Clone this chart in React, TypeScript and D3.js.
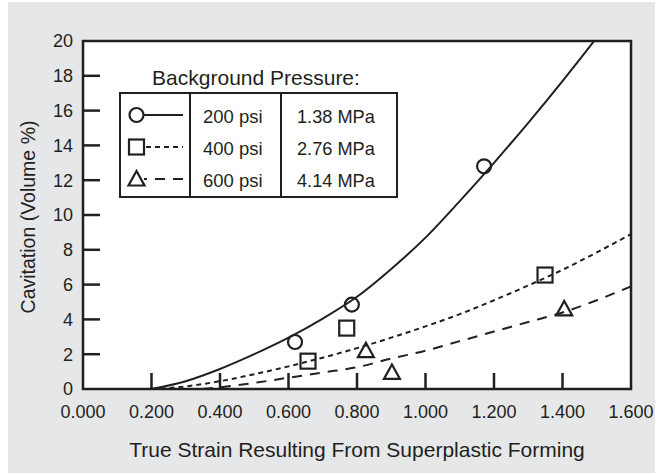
import React from 'react';
import * as d3 from 'd3';

// fitted curves (strain, cavitation %)
const curve200 = [
  [0.2, 0], [0.3, 0.45], [0.4, 1.15], [0.5, 2.0], [0.6, 2.95], [0.7, 4.05], [0.8, 5.3],
  [0.9, 6.9], [1.0, 8.7], [1.1, 10.8], [1.2, 13.0], [1.3, 15.3], [1.4, 17.7], [1.5, 20.2], [1.55, 21.5],
];
const curve400 = [
  [0.2, 0], [0.3, 0.15], [0.4, 0.45], [0.5, 0.85], [0.6, 1.3], [0.7, 1.8], [0.8, 2.35],
  [0.9, 2.95], [1.0, 3.6], [1.1, 4.3], [1.2, 5.1], [1.3, 5.95], [1.4, 6.85], [1.5, 7.85], [1.6, 8.9],
];
const curve600 = [
  [0.35, 0], [0.4, 0.1], [0.5, 0.35], [0.6, 0.65], [0.7, 0.95], [0.8, 1.25], [0.9, 1.75],
  [1.0, 2.2], [1.1, 2.75], [1.2, 3.3], [1.3, 3.85], [1.4, 4.4], [1.5, 5.1], [1.6, 5.9],
];

// measured points
const points200 = [[0.619, 2.7], [0.785, 4.85], [1.171, 12.8]];
const points400 = [[0.657, 1.6], [0.77, 3.5], [1.349, 6.55]];
const points600 = [[0.826, 2.2], [0.902, 0.95], [1.405, 4.6]];

const xTicks = [0, 0.2, 0.4, 0.6, 0.8, 1.0, 1.2, 1.4, 1.6];
const yTicks = [0, 2, 4, 6, 8, 10, 12, 14, 16, 18, 20];

const legendTitle = 'Background Pressure:';
const legendPsi = ['200 psi', '400 psi', '600 psi'];
const legendMpa = ['1.38 MPa', '2.76 MPa', '4.14 MPa'];

const W = 658;
const H = 475;
const left = 83, right = 631, top = 41, bottom = 389;
const ink = '#231f20';
const font = '"Liberation Sans", Arial, Helvetica, sans-serif';

const x = d3.scaleLinear().domain([0, 1.6]).range([left, right]);
const y = d3.scaleLinear().domain([0, 20]).range([bottom, top]);

const line = d3.line<number[]>()
  .x((d) => x(d[0]))
  .y((d) => y(d[1]))
  .curve(d3.curveMonotoneX);

const series = [
  { curve: curve200, points: points200, dash: null, symbol: 'circle' },
  { curve: curve400, points: points400, dash: '5,4', symbol: 'square' },
  { curve: curve600, points: points600, dash: '10,8', symbol: 'triangle' },
];

const Marker = ({ kind, cx, cy }: { kind: string; cx: number; cy: number }) => {
  const common = { fill: 'none', stroke: ink, strokeWidth: 2.2 };
  if (kind === 'circle') return <circle cx={cx} cy={cy} r={7} {...common} />;
  if (kind === 'square') return <rect x={cx - 7.5} y={cy - 7.5} width={15} height={15} {...common} />;
  return (
    <path d={`M${cx - 8},${cy + 6.5}L${cx + 8},${cy + 6.5}L${cx},${cy - 8}Z`} {...common} strokeLinejoin="miter" />
  );
};

const App = () => {
  const fmt = d3.format('.3f');
  const lg = { x0: 120, x1: 190, x2: 281, x3: 397, top: 93, bottom: 197 };
  const rowY = [117, 149, 181];

  return (
    <svg width={W} height={H} style={{ position: 'absolute', left: 0, top: 0, background: '#fff' }}
      fontFamily={font}>
      <defs>
        <clipPath id="plot-clip">
          <rect x={left} y={top} width={right - left} height={bottom - top} />
        </clipPath>
      </defs>
      <rect x={8} y={2} width={647} height={471} fill="#e6e7e8" />
      <rect x={left} y={top} width={right - left} height={bottom - top} fill="#fff" />

      {/* curves */}
      <g clipPath="url(#plot-clip)">
        {series.map((s, i) => (
          <path key={i} d={line(s.curve) || ''} fill="none" stroke={ink} strokeWidth={2}
            strokeDasharray={s.dash || undefined} />
        ))}
      </g>

      {/* markers */}
      {series.map((s, i) => s.points.map((p, j) => (
        <Marker key={`${i}-${j}`} kind={s.symbol} cx={x(p[0])} cy={y(p[1])} />
      )))}

      {/* ticks, drawn inward */}
      {xTicks.slice(1, -1).map((t) => (
        <line key={t} x1={x(t)} x2={x(t)} y1={bottom} y2={bottom - 16} stroke={ink} strokeWidth={2.5} />
      ))}
      {yTicks.slice(1, -1).map((t) => (
        <line key={t} x1={left} x2={left + 17} y1={y(t)} y2={y(t)} stroke={ink} strokeWidth={2.5} />
      ))}
      <rect x={left} y={top} width={right - left} height={bottom - top} fill="none" stroke={ink} strokeWidth={2.5} />

      {/* tick labels */}
      {xTicks.map((t) => (
        <text key={t} x={x(t)} y={418} textAnchor="middle" fontSize={18} fill={ink}>{fmt(t)}</text>
      ))}
      {yTicks.map((t) => (
        <text key={t} x={73} y={y(t)} dy="0.35em" textAnchor="end" fontSize={18} fill={ink}>{t}</text>
      ))}

      {/* axis titles */}
      <text x={357} y={457} textAnchor="middle" fontSize={21} fill={ink}>
        True Strain Resulting From Superplastic Forming
      </text>
      <text transform={`translate(35,${217}) rotate(-90)`} textAnchor="middle" fontSize={19.5} fill={ink}>
        Cavitation (Volume %)
      </text>

      {/* legend */}
      <text x={256} y={85} textAnchor="middle" fontSize={21} fill={ink}>{legendTitle}</text>
      <rect x={lg.x0} y={lg.top} width={lg.x3 - lg.x0} height={lg.bottom - lg.top} fill="#fff" stroke={ink} strokeWidth={2} />
      <line x1={lg.x1} x2={lg.x1} y1={lg.top} y2={lg.bottom} stroke={ink} strokeWidth={2} />
      <line x1={lg.x2} x2={lg.x2} y1={lg.top} y2={lg.bottom} stroke={ink} strokeWidth={2} />
      {series.map((s, i) => (
        <g key={i}>
          <line x1={137} x2={183} y1={rowY[i] - 2} y2={rowY[i] - 2} stroke={ink} strokeWidth={2}
            strokeDasharray={s.dash || undefined} />
          <rect x={128} y={rowY[i] - 11} width={16} height={18} fill="#fff" />
          <Marker kind={s.symbol} cx={136.5} cy={rowY[i] - 2} />
          <text x={203} y={rowY[i]} dy="0.35em" fontSize={18.5} fill={ink}>{legendPsi[i]}</text>
          <text x={297} y={rowY[i]} dy="0.35em" fontSize={18.2} fill={ink}>{legendMpa[i]}</text>
        </g>
      ))}
    </svg>
  );
};

export default App;
